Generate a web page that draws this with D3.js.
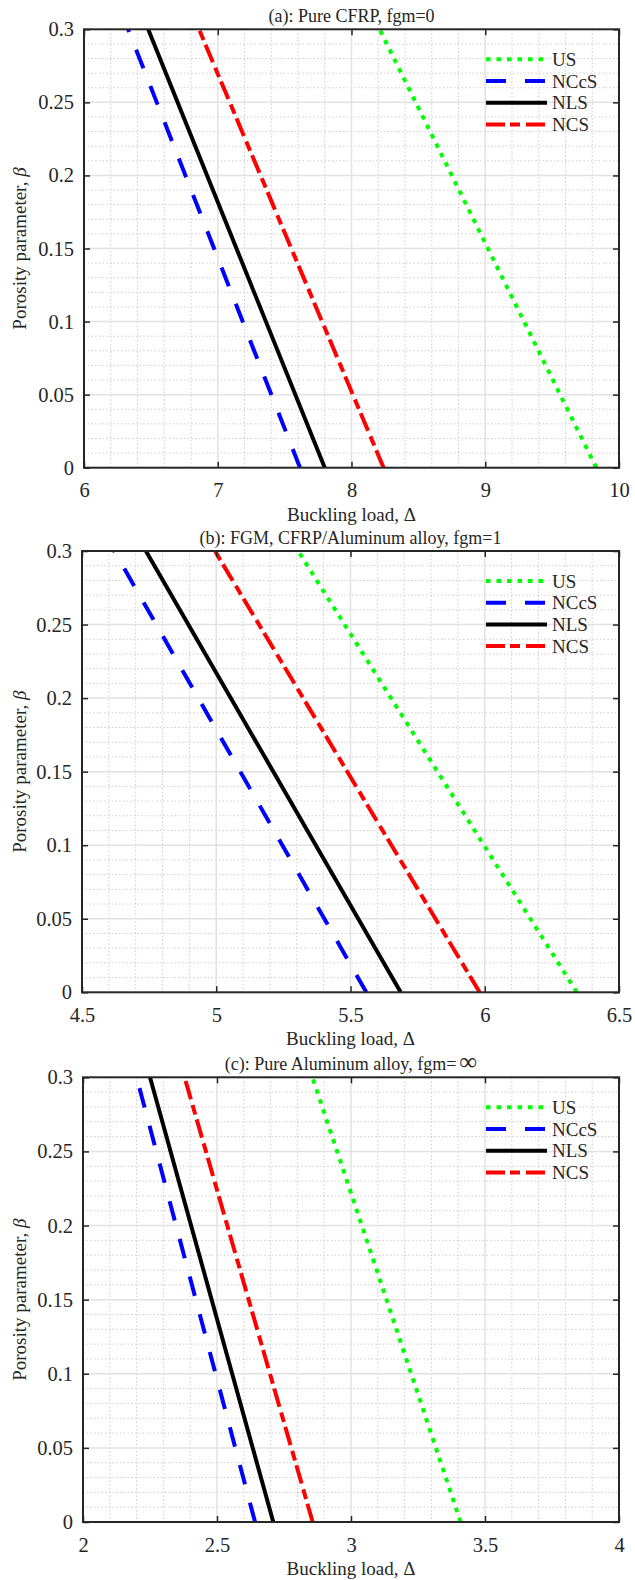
<!DOCTYPE html>
<html>
<head>
<meta charset="utf-8">
<script src="https://cdn.jsdelivr.net/npm/d3@7"></script>
<style>
  body { margin: 0; background: #fff; }
  svg { display: block; }
  text { font-family: "Liberation Serif", "Times New Roman", serif; fill: #262626; }
</style>
</head>
<body>
<svg id="chart" width="635" height="1580"></svg>
<script>
// porosity parameter at the two ends of every line
const beta = [0, 0.3];
const seriesNames = ['US', 'NCcS', 'NLS', 'NCS'];
const yTicks = [0, 0.05, 0.1, 0.15, 0.2, 0.25, 0.3];

// (a) pure CFRP
const usA = [9.83, 8.21];
const nccsA = [7.615, 6.33];
const nlsA = [7.80, 6.48];
const ncsA = [8.24, 6.86];
const xTicksA = [6, 7, 8, 9, 10];

// (b) FGM
const usB = [6.343, 5.305];
const nccsB = [5.559, 4.62];
const nlsB = [5.687, 4.738];
const ncsB = [5.981, 4.995];
const xTicksB = [4.5, 5, 5.5, 6, 6.5];

// (c) pure aluminum
const usC = [3.409, 2.856];
const nccsC = [2.642, 2.20];
const nlsC = [2.710, 2.25];
const ncsC = [2.857, 2.379];
const xTicksC = [2, 2.5, 3, 3.5, 4];

const titles = ['(a): Pure CFRP, fgm=0', '(b): FGM, CFRP/Aluminum alloy, fgm=1', '(c): Pure Aluminum alloy, fgm='];

const styles = {
  US:   {color: '#00ff00', dash: '4.5,6'},
  NCcS: {color: '#0000ff', dash: '20,19'},
  NLS:  {color: '#000000', dash: null},
  NCS:  {color: '#ff0000', dash: '19,5,10,6'}
};

const serif = '"Liberation Serif", "Times New Roman", serif';
const svg = d3.select('#chart');
const fmt = d3.format('~g');

function drawPanel(idx, frame, xTicks, minorStep, title, values) {
  const g = svg.append('g');
  const x = d3.scaleLinear().domain([xTicks[0], xTicks[xTicks.length - 1]]).range([frame.left, frame.right]);
  const y = d3.scaleLinear().domain([0, 0.3]).range([frame.bottom, frame.top]);

  // minor grid (dotted)
  const xMinor = d3.range(x.domain()[0], x.domain()[1] + 1e-9, minorStep)
    .filter(v => !xTicks.some(t => Math.abs(t - v) < 1e-6));
  const yMinor = d3.range(0, 0.3 + 1e-9, 0.01)
    .filter(v => !yTicks.some(t => Math.abs(t - v) < 1e-6));
  g.selectAll('.xminor').data(xMinor).join('line')
    .attr('x1', d => x(d)).attr('x2', d => x(d))
    .attr('y1', frame.top).attr('y2', frame.bottom)
    .attr('stroke', '#cccccc').attr('stroke-width', 1).attr('stroke-dasharray', '1.5,2.2');
  g.selectAll('.yminor').data(yMinor).join('line')
    .attr('y1', d => y(d)).attr('y2', d => y(d))
    .attr('x1', frame.left).attr('x2', frame.right)
    .attr('stroke', '#cccccc').attr('stroke-width', 1).attr('stroke-dasharray', '1.5,2.2');

  // major grid
  g.selectAll('.xmajor').data(xTicks.slice(1, -1)).join('line')
    .attr('x1', d => x(d)).attr('x2', d => x(d))
    .attr('y1', frame.top).attr('y2', frame.bottom)
    .attr('stroke', '#e2e2e2').attr('stroke-width', 1.5);
  g.selectAll('.ymajor').data(yTicks.slice(1, -1)).join('line')
    .attr('y1', d => y(d)).attr('y2', d => y(d))
    .attr('x1', frame.left).attr('x2', frame.right)
    .attr('stroke', '#e2e2e2').attr('stroke-width', 1.5);

  // data lines
  const clipId = 'clip' + idx;
  g.append('clipPath').attr('id', clipId).append('rect')
    .attr('x', frame.left).attr('y', frame.top)
    .attr('width', frame.right - frame.left).attr('height', frame.bottom - frame.top);
  const line = d3.line().x(d => x(d[0])).y(d => y(d[1]));
  seriesNames.forEach(name => {
    const pts = values[name].map((v, i) => [v, beta[i]]);
    g.append('path')
      .attr('clip-path', 'url(#' + clipId + ')')
      .attr('d', line(pts))
      .attr('fill', 'none')
      .attr('stroke', styles[name].color)
      .attr('stroke-width', 4)
      .attr('stroke-dasharray', styles[name].dash);
  });

  // axes
  const axFont = sel => sel.selectAll('text')
    .style('font-size', '20.5px').style('font-family', serif).attr('fill', '#262626');
  const clean = sel => { sel.select('.domain').remove(); sel.selectAll('line').attr('stroke', '#262626').attr('stroke-width', 1.5); };
  g.append('g').attr('transform', 'translate(0,' + frame.bottom + ')')
    .call(d3.axisBottom(x).tickValues(xTicks).tickFormat(fmt).tickSizeInner(-6).tickSizeOuter(0).tickPadding(15))
    .call(clean).call(axFont);
  g.append('g').attr('transform', 'translate(0,' + frame.top + ')')
    .call(d3.axisTop(x).tickValues(xTicks).tickFormat('').tickSizeInner(-6).tickSizeOuter(0))
    .call(clean);
  g.append('g').attr('transform', 'translate(' + frame.left + ',0)')
    .call(d3.axisLeft(y).tickValues(yTicks).tickFormat(fmt).tickSizeInner(-6).tickSizeOuter(0).tickPadding(10))
    .call(clean).call(axFont);
  g.append('g').attr('transform', 'translate(' + frame.right + ',0)')
    .call(d3.axisRight(y).tickValues(yTicks).tickFormat('').tickSizeInner(-6).tickSizeOuter(0))
    .call(clean);

  g.append('rect')
    .attr('x', frame.left).attr('y', frame.top)
    .attr('width', frame.right - frame.left).attr('height', frame.bottom - frame.top)
    .attr('fill', 'none').attr('stroke', '#262626').attr('stroke-width', 2);

  // title
  const cx = (frame.left + frame.right) / 2;
  const t = g.append('text').attr('x', cx).attr('y', frame.top - 7)
    .attr('text-anchor', 'middle').style('font-family', serif).style('font-size', '18px').text(title);
  if (idx === 2) t.append('tspan').attr('dx', 3).style('font-size', '25px').text('∞');

  // x label
  g.append('text').attr('x', cx).attr('y', frame.bottom + 53)
    .attr('text-anchor', 'middle').style('font-family', serif).style('font-size', '19px').text('Buckling load, Δ');

  // y label
  const yl = g.append('text')
    .attr('transform', 'translate(26,' + (frame.top + frame.bottom) / 2 + ') rotate(-90)')
    .attr('text-anchor', 'middle').style('font-family', serif).style('font-size', '19px');
  yl.append('tspan').text('Porosity parameter, ');
  yl.append('tspan').style('font-style', 'italic').text('β');

  // legend
  const lg = g.append('g').attr('transform', 'translate(486,' + (frame.top + 30) + ')');
  seriesNames.forEach((name, i) => {
    const row = lg.append('g').attr('transform', 'translate(0,' + i * 21.7 + ')');
    row.append('line').attr('x1', 0).attr('x2', 61).attr('y1', 0).attr('y2', 0)
      .attr('stroke', styles[name].color).attr('stroke-width', 4)
      .attr('stroke-dasharray', styles[name].dash);
    row.append('text').attr('x', 66).attr('y', 6.5)
      .style('font-family', serif).style('font-size', '19px').text(name);
  });
}

drawPanel(0, {left: 84, right: 619, top: 29.3, bottom: 467.7}, xTicksA, 0.2, titles[0],
  {US: usA, NCcS: nccsA, NLS: nlsA, NCS: ncsA});
drawPanel(1, {left: 82, right: 619, top: 551, bottom: 992.3}, xTicksB, 0.1, titles[1],
  {US: usB, NCcS: nccsB, NLS: nlsB, NCS: ncsB});
drawPanel(2, {left: 83, right: 619, top: 1077.3, bottom: 1522}, xTicksC, 0.1, titles[2],
  {US: usC, NCcS: nccsC, NLS: nlsC, NCS: ncsC});
</script>
</body>
</html>
